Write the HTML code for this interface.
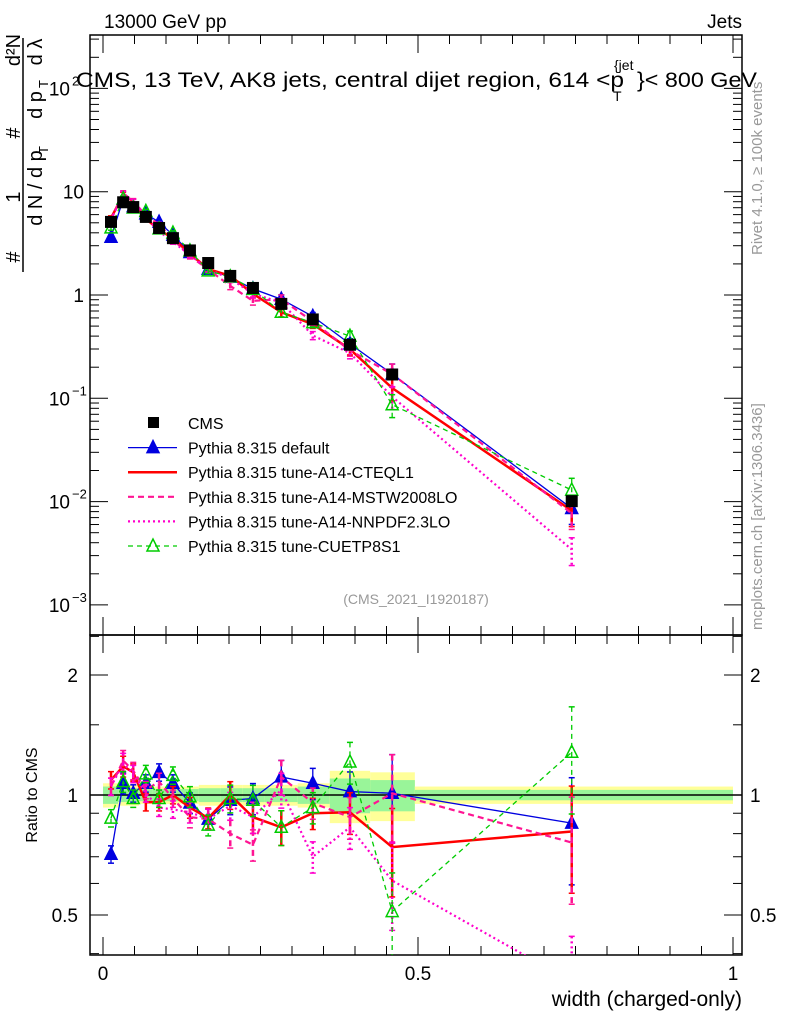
<!DOCTYPE html>
<html><head><meta charset="utf-8"><style>
body{margin:0;background:#fff;}
svg{display:block;font-family:"Liberation Sans",sans-serif;}
</style></head><body>
<svg id="c" width="786" height="1024" xmlns="http://www.w3.org/2000/svg"></svg>
<script>
const xs=[0.0127,0.032,0.048,0.068,0.089,0.111,0.138,0.167,0.202,0.238,0.283,0.333,0.392,0.459,0.744];
const edges=[0,0.024,0.04,0.057,0.078,0.1,0.124,0.152,0.186,0.221,0.257,0.309,0.36,0.424,0.495,1.0];
const cms=[5.1,7.9,7.1,5.7,4.45,3.55,2.7,2.04,1.53,1.17,0.82,0.58,0.33,0.17,0.0101];
const bandIn=[0.05,0.04,0.04,0.035,0.035,0.035,0.035,0.04,0.04,0.04,0.04,0.05,0.1,0.09,0.03];
const bandOut=[0.07,0.06,0.06,0.05,0.05,0.05,0.05,0.06,0.06,0.06,0.06,0.07,0.15,0.14,0.05];
const rDefault=[0.71,1.07,1.01,1.07,1.14,1.07,0.955,0.87,0.97,0.98,1.11,1.07,1.02,1.01,0.85];
const rCTEQ=[1.09,1.18,1.14,0.96,0.96,1.0,0.93,0.875,1.0,0.88,0.83,0.9,0.905,0.74,0.81];
const rMSTW=[1.05,1.22,1.15,1.03,1.08,0.98,0.88,0.87,0.8,0.75,1.11,0.955,0.88,1.01,0.76];
const rNNPDF=[1.05,1.2,1.13,1.01,0.93,0.92,0.905,0.87,0.94,0.88,1.03,0.7,0.83,0.61,0.34];
const rCUETP=[0.875,1.08,0.98,1.13,0.98,1.12,0.99,0.84,0.98,0.97,0.83,0.93,1.21,0.51,1.28];
const relErr=[0.05,0.06,0.05,0.05,0.05,0.05,0.06,0.06,0.08,0.09,0.1,0.09,0.12,0.25,0.3];

const svg=document.getElementById('c');const NS='http://www.w3.org/2000/svg';
function el(t,a,p){const e=document.createElementNS(NS,t);for(const k in a)e.setAttribute(k,a[k]);(p||svg).appendChild(e);return e;}
const X=v=>103+630*v;
const Y=v=>295-103.3*Math.log10(v);
const R=v=>795-120*Math.log2(v);
const L=90,Rt=742,T=35,MB=635,BB=955;
for(let i=0;i<xs.length;i++){
 const b=el('rect',{x:X(edges[i]),y:R(1+bandOut[i]),width:X(edges[i+1])-X(edges[i]),height:R(1-bandOut[i])-R(1+bandOut[i]),fill:'#ffff99'});
 
 
 const g=el('rect',{x:X(edges[i]),y:R(1+bandIn[i]),width:X(edges[i+1])-X(edges[i]),height:R(1-bandIn[i])-R(1+bandIn[i]),fill:'#99f599'});
 
 
}
el('line',{x1:L,x2:Rt,y1:795,y2:795,stroke:'#000','stroke-width':1.5});
el('rect',{x:L,y:T,width:Rt-L,height:MB-T,fill:'none',stroke:'#000','stroke-width':1.5});
el('rect',{x:L,y:MB,width:Rt-L,height:BB-MB,fill:'none',stroke:'#000','stroke-width':1.5});
for(let d=-3;d<=2;d++){for(let m=1;m<10;m++){const v=m*Math.pow(10,d);const y=Y(v);if(y<T||y>MB)continue;const len=m==1?18:9;
 el('line',{x1:L,x2:L+len,y1:y,y2:y,stroke:'#000'});el('line',{x1:Rt,x2:Rt-len,y1:y,y2:y,stroke:'#000'});}}
const ylab=[[1e-3,'10','−3'],[1e-2,'10','−2'],[1e-1,'10','−1'],[1,'1',''],[10,'10',''],[100,'10','2']];
ylab.forEach(l=>{const t=el('text',{x:l[2]?70:84,y:Y(l[0])+7,'font-size':19,'text-anchor':'end'});t.textContent=l[1];
 
 if(l[2]){const s=el('text',{x:72,y:Y(l[0])-3,'font-size':13});s.textContent=l[2];}});
[0.4,0.5,0.6,0.7,0.8,0.9,1,1.5,2,2.5].forEach(v=>{const y=R(v);if(y<MB||y>BB)return;const len=(v==0.5||v==1||v==2)?18:9;
 el('line',{x1:L,x2:L+len,y1:y,y2:y,stroke:'#000'});el('line',{x1:Rt,x2:Rt-len,y1:y,y2:y,stroke:'#000'});});
[[0.5,'0.5'],[1,'1'],[2,'2']].forEach(l=>{const t=el('text',{x:78,y:R(l[0])+7,'font-size':19,'text-anchor':'end'});t.textContent=l[1];
 
 const t2=el('text',{x:750,y:R(l[0])+7,'font-size':19});t2.textContent=l[1];});
for(let v=0;v<=1.0001;v+=0.05){const x=X(v);const len=Math.abs(v*10-Math.round(v*10))<0.01&&Math.round(v*10)%5==0?18:9;
 [[T,1],[MB,-1],[MB,1],[BB,-1]].forEach(p=>el('line',{x1:x,x2:x,y1:p[0],y2:p[0]+p[1]*len,stroke:'#000'}));}
[[0,'0'],[0.5,'0.5'],[1,'1']].forEach(l=>{const t=el('text',{x:X(l[0]),y:980,'font-size':19,'text-anchor':'middle'});t.textContent=l[1];
 });
const defs=el('defs',{});const c1=el('clipPath',{id:'cm'},defs);el('rect',{x:L,y:T,width:Rt-L,height:MB-T},c1);
const c2=el('clipPath',{id:'cr'},defs);el('rect',{x:L,y:MB,width:Rt-L,height:BB-MB},c2);
const gm=el('g',{'clip-path':'url(#cm)'});const gr=el('g',{'clip-path':'url(#cr)'});
const series=[
 {n:'default',r:rDefault,c:'#0000e0',w:1.3,d:'',m:'tri'},
 {n:'cteql1',r:rCTEQ,c:'#ff0000',w:2.5,d:'',m:'none'},
 {n:'mstw2008lo',r:rMSTW,c:'#ff1493',w:2.2,d:'6,4',m:'none'},
 {n:'nnpdf23lo',r:rNNPDF,c:'#ff00cc',w:2.2,d:'2,3',m:'none'},
 {n:'cuetp8s1',r:rCUETP,c:'#00cc00',w:1.3,d:'5,4',m:'otri'}];
function tri(g,x,y,c,open){const p=el('polygon',{points:`${x},${y-7} ${x-6},${y+5} ${x+6},${y+5}`,fill:open?'none':c,stroke:c,'stroke-width':1.5},g);return p;}
series.forEach(s=>{
 [[gm,i=>Y(cms[i]*s.r[i])],[gr,i=>R(s.r[i])]].forEach(([g,f])=>{
  const pts=xs.map((x,i)=>X(x)+','+f(i)).join(' ');
  const pl=el('polyline',{points:pts,fill:'none',stroke:s.c,'stroke-width':s.w,'stroke-dasharray':s.d},g);
  
  
  xs.forEach((x,i)=>{const v=s.r[i];const e=relErr[i];
   const ya=g===gm?Y(cms[i]*v*(1+e)):R(v*(1+e)),yb=g===gm?Y(cms[i]*v*(1-e)):R(v*(1-e));
   el('line',{x1:X(x),x2:X(x),y1:ya,y2:yb,stroke:s.c,'stroke-width':s.w>2?2.5:1.3,'stroke-dasharray':s.d},g);
   el('line',{x1:X(x)-3,x2:X(x)+3,y1:ya,y2:ya,stroke:s.c,'stroke-width':1.5},g);
   el('line',{x1:X(x)-3,x2:X(x)+3,y1:yb,y2:yb,stroke:s.c,'stroke-width':1.5},g);
   if(s.m!='none'){const p=tri(g,X(x),f(i),s.c,s.m=='otri');}
  });
 });
});
xs.forEach((x,i)=>{const r=el('rect',{x:X(x)-6,y:Y(cms[i])-6,width:12,height:12,fill:'#000'},gm);
 });
const leg=[['CMS','#000','','sq',0],['Pythia 8.315 default','#0000e0','','tri',1.3],['Pythia 8.315 tune-A14-CTEQL1','#ff0000','','none',2.5],
 ['Pythia 8.315 tune-A14-MSTW2008LO','#ff1493','6,4','none',2.2],['Pythia 8.315 tune-A14-NNPDF2.3LO','#ff00cc','2,3','none',2.2],['Pythia 8.315 tune-CUETP8S1','#00cc00','5,4','otri',1.3]];
leg.forEach((l,i)=>{const y=423+24.6*i;const g=el('g',{});
 if(l[4])el('line',{x1:128,x2:177,y1:y,y2:y,stroke:l[1],'stroke-width':l[4],'stroke-dasharray':l[2]},g);
 if(l[3]=='sq')el('rect',{x:148,y:y-6,width:11,height:11,fill:'#000'},g);
 if(l[3]=='tri')tri(g,153,y,l[1],false);if(l[3]=='otri')tri(g,153,y,l[1],true);
 const t=el('text',{x:188,y:y+6,'font-size':16},g);t.textContent=l[0];});
function txt(s,a,name){const t=el('text',a);t.textContent=s;return t;}
txt('13000 GeV pp',{x:104,y:28,'font-size':19},'header-left');
txt('Jets',{x:742,y:28,'font-size':19,'text-anchor':'end'},'header-right');
txt('CMS, 13 TeV, AK8 jets, central dijet region, 614 <p',{x:76,y:87,'font-size':21,textLength:548,lengthAdjust:'spacingAndGlyphs'},'plot-title');
txt('}< 800 GeV',{x:637,y:87,'font-size':21,textLength:120,lengthAdjust:'spacingAndGlyphs'},'plot-title-end');
txt('T',{x:613,y:101,'font-size':14},'title-sub');txt('{jet',{x:614,y:70,'font-size':14},'title-sup');
txt('(CMS_2021_I1920187)',{x:416,y:604,'font-size':14,fill:'#999','text-anchor':'middle'},'analysis-id');
txt('width (charged-only)',{x:742,y:1006,'font-size':21,'text-anchor':'end'},'x-axis-title');
txt('Ratio to CMS',{x:0,y:0,'font-size':16,'text-anchor':'middle',transform:'translate(37,795) rotate(-90)'},'ratio-axis-title');
const yt=el('g',{});
[['d²N',20,50],['#',20,133],['1',20,197],['#',20,257],['d λ',42,52],['d p',42,105],['d N / d p',42,188]].forEach(a=>{
 const t=el('text',{x:0,y:0,'font-size':20,'text-anchor':'middle',transform:`translate(${a[1]},${a[2]}) rotate(-90)`},yt);t.textContent=a[0];});
[['T',48,88],['T',48,154]].forEach(a=>{const t=el('text',{x:0,y:0,'font-size':13,transform:`translate(${a[1]},${a[2]}) rotate(-90)`},yt);t.textContent=a[0];});
el('line',{x1:23,x2:23,y1:38,y2:272,stroke:'#000','stroke-width':1.5},yt);
txt('Rivet 4.1.0, ≥ 100k events',{x:0,y:0,'font-size':15,fill:'#999',transform:'translate(762,255) rotate(-90)'},'rivet-label');
txt('mcplots.cern.ch [arXiv:1306.3436]',{x:0,y:0,'font-size':15,fill:'#999',transform:'translate(762,630) rotate(-90)'},'mcplots-label');
</script>
</body></html>
